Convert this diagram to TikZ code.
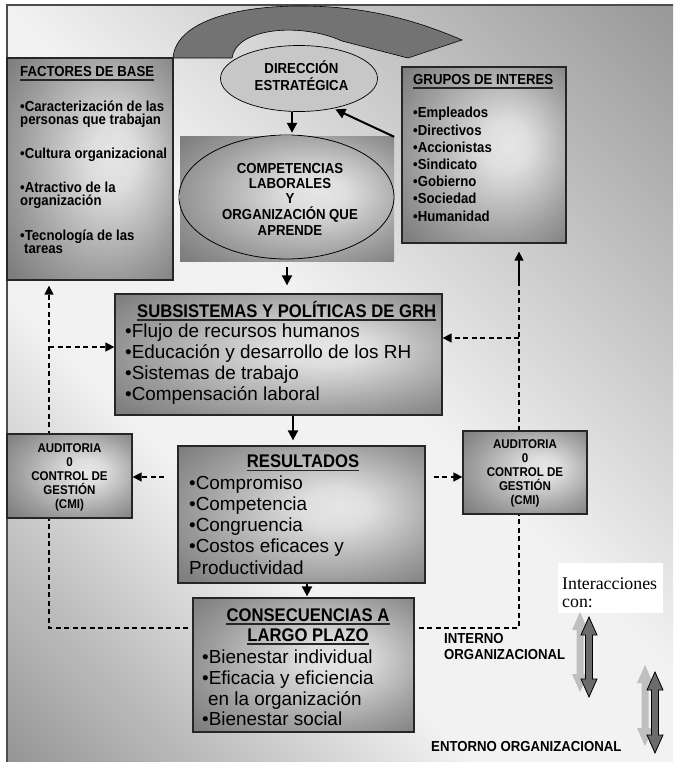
\documentclass[tikz,border=0pt]{standalone}
\usepackage{fontspec}
\setmainfont{Liberation Sans}[BoldFeatures={FakeStretch=0.91}]
\newfontfamily\timesface{Liberation Serif}
\usetikzlibrary{arrows.meta,shapes.geometric}
\pgfdeclarelayer{bg}
\pgfsetlayers{bg,main}
\pgfdeclareverticalshading{bgshade}{100bp}{color(0bp)=(black!42); color(15bp)=(black!41); color(38bp)=(black!5); color(52bp)=(black!5); color(85bp)=(black!40); color(100bp)=(black!42)}
\pgfdeclareradialshading{boxshade}{\pgfpoint{8bp}{3bp}}{color(0bp)=(black!10); color(7bp)=(black!13); color(25bp)=(black!38); color(35bp)=(black!50); color(50bp)=(black!56)}
\begin{document}
\begin{tikzpicture}[x=1pt,y=-1pt,
  bx/.style={draw=black!85, line width=1.3pt, shade, shading=boxshade, inner sep=0pt},
  bt/.style={anchor=base west, inner sep=0pt, font=\fontsize{14.5}{16}\selectfont\bfseries},
  ct/.style={anchor=base, inner sep=0pt, font=\fontsize{14.5}{16}\selectfont\bfseries},
  audtxt/.style={anchor=base, inner sep=0pt, font=\fontsize{12.7}{14}\selectfont\bfseries},
  tt/.style={anchor=base, inner sep=0pt, font=\fontsize{18.3}{20}\selectfont\bfseries},
  rt/.style={anchor=base west, inner sep=0pt, font=\fontsize{18.9}{21}\selectfont},
  ul/.style={line width=1.3pt, black!85},
  arr/.style={line width=2pt, -{Triangle[width=10pt,length=10pt]}},
  dsh/.style={line width=1.5pt, dash pattern=on 5pt off 3.5pt},
  dar/.style={dsh, -{Triangle[width=9pt,length=9pt]}},
  darr/.style={draw=black, line width=0.8pt, fill=black!58},
  sarr/.style={fill=black!25}
]
\useasboundingbox (0,0) rectangle (673,762);
\begin{pgfonlayer}{bg}
\path[shade, shading=bgshade, shading angle=-45] (7,5) rectangle (673,762);
\end{pgfonlayer}
\draw[line width=1.6pt, black!70] (7,762) -- (7,5) -- (673,5);

% curved band arrow
\draw[line width=0.6pt, fill=black!55] (173,58) .. controls (176,20) and (240,6) .. (300,6)
  .. controls (370,6) and (420,22) .. (462,40) -- (408,58) -- (342,41)
  .. controls (300,22) and (236,28) .. (232,58) -- cycle;

% shapes
\node[ellipse, draw, line width=0.7pt, fill=black!22, inner sep=0pt, minimum width=157pt, minimum height=66pt] (dir) at (299,78.5) {};
\node[bx, minimum width=166pt, minimum height=222pt] (fact) at (90,169) {};
\node[bx, minimum width=164pt, minimum height=176pt] (grp) at (484,155) {};
\node[shade, shading=boxshade, inner sep=0pt, minimum width=214pt, minimum height=124pt] (comp) at (287,199) {};
\node[ellipse, draw, line width=0.8pt, inner sep=0pt, minimum width=215pt, minimum height=124pt] (compe) at (286.5,197) {};
\node[bx, minimum width=327pt, minimum height=121pt] (subs) at (278.5,354.5) {};
\node[bx, minimum width=247pt, minimum height=137pt] (res) at (301.5,514.5) {};
\node[bx, minimum width=221pt, minimum height=134pt] (cons) at (303.5,665) {};
\node[bx, minimum width=125pt, minimum height=84pt] (audL) at (69.5,476) {};
\node[bx, minimum width=124pt, minimum height=83pt] (audR) at (525,472.5) {};
\node[fill=white, inner sep=0pt, minimum width=105pt, minimum height=50pt] (inter) at (610.5,588) {};

% dashed feedback connectors
\coordinate (cL) at (49,628);
\coordinate (cR) at (519,628);
\coordinate (bL) at (49,347);
\coordinate (bR) at (519,338);
\coordinate (sR) at (519,283);
\coordinate (yRes) at (0,477);
\begin{pgfonlayer}{bg}
\draw[dar, shorten <=4pt, shorten >=5pt] (cons.west |- cL) -- (cL) -- (cL |- fact.south);
\draw[dsh, shorten <=4pt] (cons.east |- cR) -- (cR) -- (sR);
\end{pgfonlayer}
\draw[line width=1.5pt, -{Triangle[width=9pt,length=9pt]}, shorten >=8pt] (sR) -- (sR |- grp.south);
\draw[dar] (bL) -- (subs.west |- bL);
\draw[dar] (bR) -- (subs.east |- bR);
\draw[dar, shorten <=13pt] (res.west |- yRes) -- (audL.east |- yRes);
\draw[dar, shorten <=8pt] (res.east |- yRes) -- (audR.west |- yRes);

% solid arrows
\draw[arr, shorten >=4pt] ([xshift=-7pt]dir.south) -- ([xshift=-7pt]dir.south |- comp.north);
\draw[arr, shorten >=2pt] (comp.north east) -- (dir.-41);
\draw[arr, shorten <=6pt, shorten >=8pt] (comp.south) -- (comp.south |- subs.north);
\draw[arr, shorten >=5pt] ([xshift=14.5pt]subs.south) -- ([xshift=14.5pt]subs.south |- res.north);
\draw[arr, shorten >=1pt] ([xshift=5.5pt]res.south) -- ([xshift=5.5pt]res.south |- cons.north);

% Factores
\node[bt] (f0) at (20,77) {FACTORES DE BASE};
\draw[ul] ([yshift=-3pt]f0.base west) -- ([yshift=-3pt]f0.base east);
\node[bt] (f1) at (20,112) {•Caracterización de las};
\node[bt] (f2) at (20,125) {personas que trabajan};
\node[bt] (f3) at (20,159) {•Cultura organizacional};
\node[bt] (f4) at (20,192) {•Atractivo de la};
\node[bt] (f5) at (20,205) {organización};
\node[bt] (f6) at (20,240) {•Tecnología de las};
\node[bt] (f7) at (24,253) {tareas};

% Direccion
\node[ct] (d1) at (301.5,74) {DIRECCIÓN};
\node[ct] (d2) at (301.5,91) {ESTRATÉGICA};

% Grupos
\node[bt] (g0) at (413,85) {GRUPOS DE INTERES};
\draw[ul] ([yshift=-3pt]g0.base west) -- ([yshift=-3pt]g0.base east);
\node[bt] (g1) at (413,118) {•Empleados};
\node[bt] (g2) at (413,135.2) {•Directivos};
\node[bt] (g3) at (413,152.4) {•Accionistas};
\node[bt] (g4) at (413,169.6) {•Sindicato};
\node[bt] (g5) at (413,186.8) {•Gobierno};
\node[bt] (g6) at (413,204) {•Sociedad};
\node[bt] (g7) at (413,221.2) {•Humanidad};

% Competencias
\node[ct] (c1) at (290,173) {COMPETENCIAS};
\node[ct] (c2) at (290,188.5) {LABORALES};
\node[ct] (c3) at (290,204) {Y};
\node[ct] (c4) at (290,219.5) {ORGANIZACIÓN QUE};
\node[ct] (c5) at (290,235) {APRENDE};

% Subsistemas
\node[tt, anchor=base west] (s0) at (137,317) {SUBSISTEMAS Y POLÍTICAS DE GRH};
\draw[ul] ([yshift=-3pt]s0.base west) -- ([yshift=-3pt]s0.base east);
\node[rt] (s1) at (125,337) {•Flujo de recursos humanos};
\node[rt] (s2) at (125,358) {•Educación y desarrollo de los RH};
\node[rt] (s3) at (125,379) {•Sistemas de trabajo};
\node[rt] (s4) at (125,400) {•Compensación laboral};

% Resultados
\node[tt] (r0) at (303,467) {RESULTADOS};
\draw[ul] ([yshift=-3.5pt]r0.base west) -- ([yshift=-3.5pt]r0.base east);
\node[rt] (r1) at (189,489) {•Compromiso};
\node[rt] (r2) at (189,510) {•Competencia};
\node[rt] (r3) at (189,531) {•Congruencia};
\node[rt] (r4) at (189,552) {•Costos eficaces y};
\node[rt] (r5) at (189,574) {Productividad};

% Consecuencias
\node[tt] (k0) at (308,621) {CONSECUENCIAS A};
\draw[ul] ([yshift=-3pt]k0.base west) -- ([yshift=-3pt]k0.base east);
\node[tt] (k1) at (308,641) {LARGO PLAZO};
\draw[ul] ([yshift=-3pt]k1.base west) -- ([yshift=-3pt]k1.base east);
\node[rt] (k2) at (202,663) {•Bienestar individual};
\node[rt] (k3) at (202,684) {•Eficacia y eficiencia};
\node[rt] (k4) at (208,705) {en la organización};
\node[rt] (k5) at (202,725) {•Bienestar social};

% Auditorias
\node[audtxt] (aL1) at (69.5,452) {AUDITORIA};
\node[audtxt] (aL2) at (69.5,466) {0};
\node[audtxt] (aL3) at (69.5,480) {CONTROL DE};
\node[audtxt] (aL4) at (69.5,494) {GESTIÓN};
\node[audtxt] (aL5) at (69.5,508) {(CMI)};
\node[audtxt] (aR1) at (525,448) {AUDITORIA};
\node[audtxt] (aR2) at (525,462) {0};
\node[audtxt] (aR3) at (525,476) {CONTROL DE};
\node[audtxt] (aR4) at (525,490) {GESTIÓN};
\node[audtxt] (aR5) at (525,504) {(CMI)};

% Interacciones
\node[anchor=base west, inner sep=0pt, font=\timesface\fontsize{17.8}{20}\selectfont] (i1) at (562,589) {Interacciones};
\node[anchor=base west, inner sep=0pt, font=\timesface\fontsize{17.8}{20}\selectfont] (i2) at (562,607) {con:};

% double arrows
\fill[sarr] (580,612) -- (588,630) -- (583.5,630) -- (583.5,674) -- (588,674) -- (580,692) -- (572,674) -- (576.5,674) -- (576.5,630) -- (572,630) -- cycle;
\draw[darr] (589,617) -- (597,635) -- (592.5,635) -- (592.5,679) -- (597,679) -- (589,697) -- (581,679) -- (585.5,679) -- (585.5,635) -- (581,635) -- cycle;
\fill[sarr] (645,665) -- (653,683) -- (648.5,683) -- (648.5,728) -- (653,728) -- (645,746) -- (637,728) -- (641.5,728) -- (641.5,683) -- (637,683) -- cycle;
\draw[darr] (655,672) -- (663,690) -- (658.5,690) -- (658.5,735) -- (663,735) -- (655,753) -- (647,735) -- (651.5,735) -- (651.5,690) -- (647,690) -- cycle;

% labels
\node[bt] (l1) at (444,643) {INTERNO};
\node[bt] (l2) at (444,659) {ORGANIZACIONAL};
\node[bt] (l3) at (431,751) {ENTORNO ORGANIZACIONAL};
\end{tikzpicture}
\end{document}
